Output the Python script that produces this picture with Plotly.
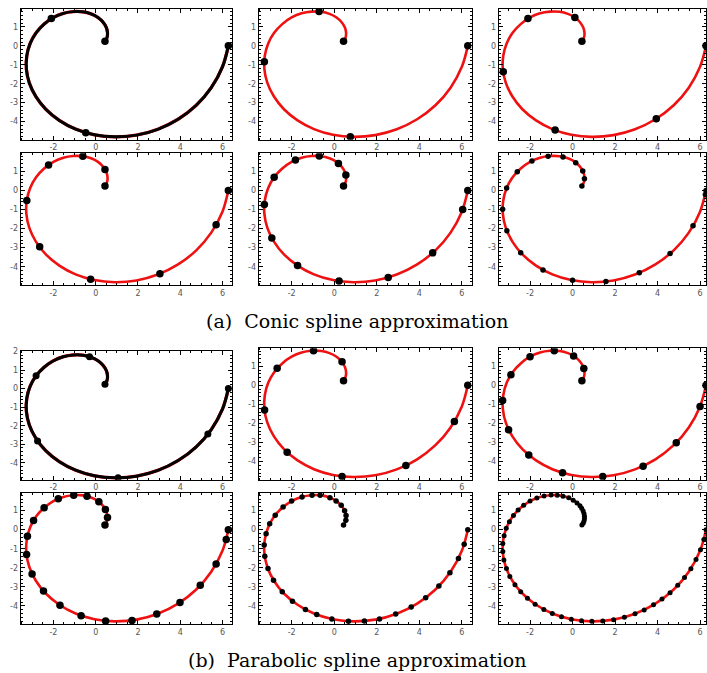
import plotly.graph_objects as go

W, H = 707, 673

# spiral (x, y)
curve_x = [0.44, 0.54, 0.56, 0.50, 0.35, 0.11, -0.22, -0.61, -1.06, -1.53, -2.00, -2.44,
           -2.82, -3.10, -3.26, -3.28, -3.14, -2.83, -2.36, -1.72, -0.95, -0.06, 0.91,
           1.93, 2.94, 3.90, 4.76, 5.47, 6.00, 6.28]
curve_y = [0.24, 0.45, 0.70, 0.98, 1.25, 1.50, 1.69, 1.80, 1.81, 1.72, 1.50, 1.15,
           0.69, 0.13, -0.52, -1.23, -1.96, -2.68, -3.35, -3.94, -4.40, -4.70, -4.81,
           -4.72, -4.41, -3.88, -3.14, -2.21, -1.11, 0.00]

# knots, (a) conic spline approximation
a1_x = [0.44, -2.10, -0.47, 6.28]
a1_y = [0.24, 1.44, -4.59, 0.00]
a2_x = [0.44, -0.71, -3.28, 0.76, 6.28]
a2_y = [0.24, 1.81, -0.84, -4.81, 0.00]
a3_x = [0.44, 0.11, -2.10, -3.26, -0.82, 3.94, 6.28]
a3_y = [0.24, 1.50, 1.44, -1.37, -4.45, -3.85, 0.00]
a4_x = [0.44, 0.44, -0.61, -2.23, -3.26, -2.65, -0.24, 3.04, 5.70, 6.28]
a4_y = [0.24, 1.10, 1.80, 1.34, -0.52, -2.95, -4.65, -4.37, -1.80, 0.00]
a5_x = [0.44, 0.55, 0.20, -0.70, -1.82, -2.82, -3.28, -2.93, -1.72, 0.23, 2.54, 4.63,
        6.04, 6.28]
a5_y = [0.24, 0.81, 1.42, 1.81, 1.60, 0.69, -0.73, -2.49, -3.94, -4.75, -4.56, -3.27,
        -1.00, 0.00]
a6_x = [0.44, 0.56, 0.48, 0.15, -0.45, -1.15, -1.91, -2.60, -3.10, -3.29, -3.09, -2.44,
        -1.39, 0.00, 1.57, 3.14, 4.59, 5.67, 6.25, 6.28]
a6_y = [0.24, 0.61, 1.02, 1.46, 1.76, 1.80, 1.55, 0.98, 0.13, -0.98, -2.11, -3.26,
        -4.17, -4.71, -4.78, -4.32, -3.31, -1.85, -0.21, 0.00]

# knots, (b) parabolic spline approximation
b1_x = [0.44, -0.29, -2.82, -2.75, 1.06, 5.31, 6.28]
b1_y = [0.24, 1.72, 0.69, -2.82, -4.81, -2.45, 0.00]
b2_x = [0.44, 0.37, -0.97, -2.68, -3.27, -2.21, 0.37, 3.37, 5.65, 6.28]
b2_y = [0.24, 1.23, 1.82, 0.89, -1.30, -3.51, -4.78, -4.21, -1.90, 0.00]
b3_x = [0.44, 0.53, 0.05, -0.86, -2.00, -2.90, -3.29, -3.01, -2.06, -0.47, 1.42, 3.32,
        4.88, 6.00, 6.28]
b3_y = [0.24, 0.88, 1.54, 1.82, 1.50, 0.56, -0.80, -2.33, -3.66, -4.59, -4.79, -4.24,
        -3.01, -1.11, 0.00]
b4_x = [0.44, 0.56, 0.46, 0.15, -0.41, -1.04, -1.77, -2.44, -2.94, -3.23, -3.27, -3.01,
        -2.47, -1.69, -0.69, 0.47, 1.72, 2.89, 3.99, 4.95, 5.70, 6.18, 6.28]
b4_y = [0.24, 0.64, 1.06, 1.46, 1.75, 1.81, 1.62, 1.15, 0.48, -0.35, -1.30, -2.33,
        -3.22, -3.97, -4.51, -4.79, -4.76, -4.43, -3.82, -2.92, -1.80, -0.52, 0.00]
b5_x = [0.44, 0.55, 0.56, 0.49, 0.33, 0.09, -0.20, -0.66, -1.04, -1.51, -2.00, -2.40,
        -2.77, -3.03, -3.20, -3.29, -3.26, -3.11, -2.85, -2.44, -1.96, -1.35, -0.82,
        -0.11, 0.67, 1.42, 2.13, 2.89, 3.62, 4.30, 4.92, 5.44, 5.84, 6.11, 6.28]
b5_y = [0.24, 0.50, 0.75, 0.99, 1.28, 1.51, 1.68, 1.80, 1.81, 1.72, 1.50, 1.19,
        0.76, 0.31, -0.22, -0.80, -1.40, -2.04, -2.65, -3.26, -3.75, -4.19, -4.45,
        -4.69, -4.80, -4.79, -4.68, -4.43, -4.06, -3.57, -2.96, -2.26, -1.51, -0.76, 0.00]
b6_x = [0.44, 0.50, 0.54, 0.56, 0.56, 0.54, 0.50, 0.43, 0.35, 0.21, 0.03, -0.18, -0.45,
        -0.72, -1.01, -1.34, -1.68, -2.00, -2.30, -2.56, -2.78, -2.97, -3.12, -3.22,
        -3.28, -3.28, -3.23, -3.11, -2.95, -2.71, -2.44, -2.12, -1.76, -1.35, -0.95,
        -0.52, -0.06, 0.42, 0.91, 1.42, 1.93, 2.44, 2.94, 3.37, 3.81, 4.21, 4.59, 4.95,
        5.27, 5.57, 5.81, 6.02, 6.18, 6.28]
b6_y = [0.24, 0.34, 0.45, 0.57, 0.70, 0.84, 0.98, 1.12, 1.25, 1.40, 1.55, 1.67, 1.76,
        1.81, 1.82, 1.77, 1.66, 1.50, 1.28, 1.03, 0.75, 0.42, 0.07, -0.32, -0.73,
        -1.15, -1.59, -2.04, -2.46, -2.89, -3.26, -3.60, -3.91, -4.19, -4.40, -4.57,
        -4.70, -4.78, -4.81, -4.79, -4.72, -4.59, -4.41, -4.21, -3.94, -3.64, -3.31,
        -2.92, -2.51, -2.05, -1.57, -1.05, -0.52, 0.00]

x_ticks = [-2, 0, 2, 4, 6]
x_labels = ['-2', '0', '2', '4', '6']
y_ticks = [-4, -3, -2, -1, 0, 1, 2]
y_labels = ['-4', '-3', '-2', '-1', '0', '1', '2']

captions = ['(a)  Conic spline approximation', '(b)  Parabolic spline approximation']

panels = [
    (a1_x, a1_y, 7.5, True), (a2_x, a2_y, 7.5, False), (a3_x, a3_y, 7.5, False),
    (a4_x, a4_y, 7.5, False), (a5_x, a5_y, 7.5, False), (a6_x, a6_y, 5.5, False),
    (b1_x, b1_y, 7, True), (b2_x, b2_y, 7.5, False), (b3_x, b3_y, 7.5, False),
    (b4_x, b4_y, 7.5, False), (b5_x, b5_y, 5.5, False), (b6_x, b6_y, 5, False),
]

# frame positions in pixels
cols = [(20.7, 232.5), (259, 472.3), (499.3, 707)]
rows = [(6, 137.3), (151, 283.3), (346.7, 479), (491.7, 624)]

fig = go.Figure()

for i, (kx, ky, msize, black) in enumerate(panels):
    r, c = divmod(i, 3)
    n = '' if i == 0 else str(i + 1)
    xa, ya = 'x' + n, 'y' + n

    fig.add_trace(go.Scatter(
        x=curve_x, y=curve_y, mode='lines',
        line=dict(color='#ee1111', width=3.3 if black else 2.6, shape='spline'),
        xaxis=xa, yaxis=ya, hoverinfo='skip'))
    if black:
        fig.add_trace(go.Scatter(
            x=curve_x, y=curve_y, mode='lines',
            line=dict(color='black', width=3.0, shape='spline'),
            xaxis=xa, yaxis=ya, hoverinfo='skip'))
    fig.add_trace(go.Scatter(
        x=kx, y=ky, mode='markers',
        marker=dict(color='black', size=msize),
        xaxis=xa, yaxis=ya))

    x0, x1 = cols[c]
    y0, y1 = rows[r]
    if i == 6:
        y0 = 349.3
    xr = [-3.48, 6.28] if c == 2 else [-3.55, 6.46]
    yr = [-4.92, 2.04] if i == 6 else [-4.96, 1.95]

    axis_common = dict(
        showline=True, mirror='ticks', linecolor='black', linewidth=1,
        ticks='inside', ticklen=4, tickcolor='black', tickwidth=1,
        showgrid=False, zeroline=False, fixedrange=True,
        tickfont=dict(family='DejaVu Sans', size=8, color='#555555'))

    fig.layout['xaxis' + n] = dict(
        axis_common, domain=[x0 / W, x1 / W], range=xr, anchor=ya,
        tickmode='array', tickvals=x_ticks, ticktext=x_labels,
        minor=dict(ticks='inside', ticklen=2, dtick=0.5, tick0=0,
                   tickcolor='black', showgrid=False))
    fig.layout['yaxis' + n] = dict(
        axis_common, domain=[1 - y1 / H, 1 - y0 / H], range=yr, anchor=xa,
        tickmode='array', tickvals=y_ticks, ticktext=y_labels,
        minor=dict(ticks='inside', ticklen=2, dtick=0.2, tick0=0,
                   tickcolor='black', showgrid=False))

for text, ypx in zip(captions, [319, 660]):
    fig.add_annotation(
        x=358 / W, y=1 - ypx / H, xref='paper', yref='paper',
        text=text, showarrow=False, xanchor='center', yanchor='middle',
        font=dict(family='DejaVu Serif', size=19, color='black'))

fig.update_layout(
    width=W, height=H,
    margin=dict(l=0, r=0, t=0, b=0, pad=0),
    paper_bgcolor='white', plot_bgcolor='white',
    showlegend=False)

# the page body has a default margin that would shift the figure
fig.write_html("out.html",
               config={'displayModeBar': False},
               post_script="document.body.style.margin='0';"
                           "document.body.style.overflow='hidden';")
